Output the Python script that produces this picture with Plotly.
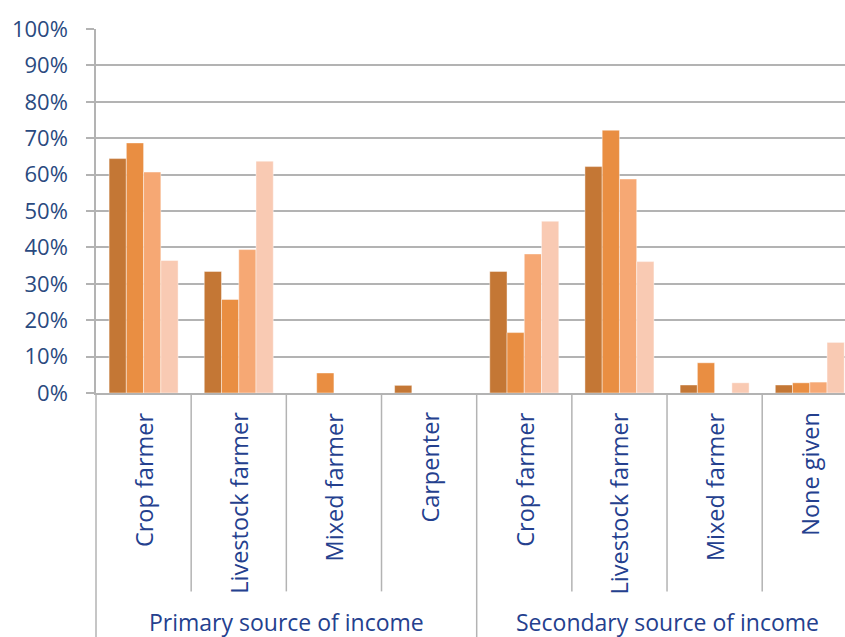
import plotly.graph_objects as go

# Income source shares by category (4 respondent groups)
categories = ["Crop farmer", "Livestock farmer", "Mixed farmer", "Carpenter",
              "Crop farmer", "Livestock farmer", "Mixed farmer", "None given"]
groups = ["Primary source of income", "Secondary source of income"]
group_sizes = [4, 4]

series_names = ["Series 1", "Series 2", "Series 3", "Series 4"]
series_1 = [0.644, 0.334, 0.0, 0.021, 0.334, 0.622, 0.022, 0.022]
series_2 = [0.687, 0.257, 0.055, 0.0, 0.166, 0.722, 0.083, 0.028]
series_3 = [0.607, 0.394, 0.0, 0.0, 0.382, 0.588, 0.0, 0.030]
series_4 = [0.364, 0.637, 0.0, 0.0, 0.472, 0.361, 0.028, 0.139]
series_values = [series_1, series_2, series_3, series_4]
series_colors = ["#C47735", "#E98E42", "#F6A874", "#F9CAB3"]

FONT = "Open Sans"
GRID = "#B3B3B3"
YTEXT = "#2A4A7F"
XTEXT = "#24408E"

positions = list(range(len(categories)))

fig = go.Figure()
for name, vals, col in zip(series_names, series_values, series_colors):
    fig.add_trace(go.Bar(
        x=positions, y=vals, name=name,
        marker=dict(color=col, line=dict(color="rgba(255,255,255,0.55)", width=0.8)),
        hovertemplate="%{y:.0%}<extra></extra>",
    ))

shapes = []
annotations = []

# thin dividers between inner categories, long dividers between the groups
start = 0
for gi, size in enumerate(group_sizes):
    for k in range(size - 1):
        shapes.append(dict(type="line", xref="x", yref="paper",
                           x0=start + k + 0.5, x1=start + k + 0.5,
                           y0=0, y1=-0.545,
                           line=dict(color=GRID, width=1.5)))
    if gi > 0:
        shapes.append(dict(type="line", xref="x", yref="paper",
                           x0=start - 0.5, x1=start - 0.5,
                           y0=0, y1=-0.68,
                           line=dict(color=GRID, width=1.5)))
    # group label centred under its categories
    annotations.append(dict(x=start + (size - 1) / 2, y=0, xref="x", yref="paper",
                            text=groups[gi], showarrow=False,
                            xanchor="center", yanchor="middle", yshift=-229,
                            font=dict(family=FONT, size=23, color=XTEXT)))
    start += size

# left edge of the axis continued down through the label area
shapes.append(dict(type="line", xref="paper", yref="paper",
                   x0=0, x1=0, y0=0, y1=-0.68,
                   line=dict(color=GRID, width=1.5)))

# vertical category labels
for pos, cat in zip(positions, categories):
    annotations.append(dict(x=pos, y=0, xref="x", yref="paper",
                            text=cat, textangle=-90, showarrow=False,
                            xanchor="center", yanchor="top", yshift=-17,
                            font=dict(family=FONT, size=23.5, color=XTEXT)))

fig.update_layout(
    width=845, height=637,
    margin=dict(l=96, r=0, t=29, b=244),
    paper_bgcolor="white", plot_bgcolor="white",
    barmode="group", bargap=0.275, bargroupgap=0,
    showlegend=False,
    shapes=shapes, annotations=annotations,
    font=dict(family=FONT),
)
fig.update_xaxes(
    range=[-0.5, 7.37], showticklabels=False, showgrid=False, zeroline=False,
    showline=True, linecolor=GRID, linewidth=1.5, ticks="",
)
fig.update_yaxes(
    range=[0, 1], dtick=0.1, tickformat=".0%",
    showgrid=True, gridcolor=GRID, gridwidth=1.5, zeroline=False,
    showline=True, linecolor=GRID, linewidth=1.5,
    ticks="outside", ticklen=8, tickcolor=GRID, tickwidth=1.5,
    ticklabelstandoff=14,
    tickfont=dict(family=FONT, size=22, color=YTEXT),
)

fig.write_html("out.html")
